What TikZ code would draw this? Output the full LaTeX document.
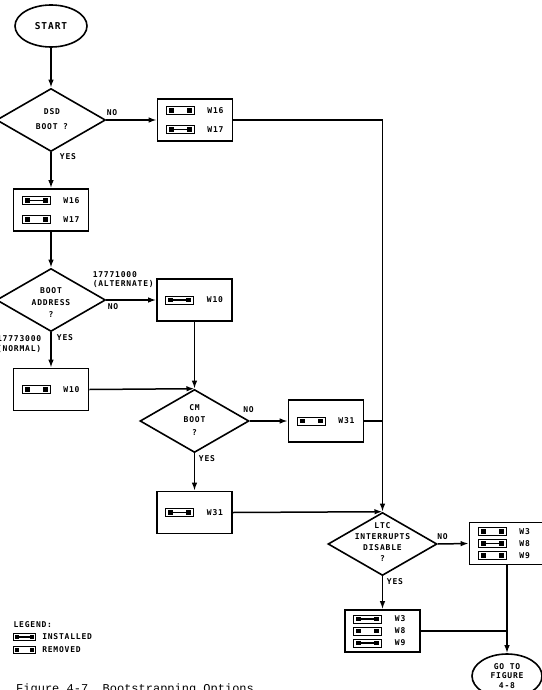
\documentclass[tikz,border=0pt]{standalone}
\usepackage{fontspec}
\newfontfamily\jfont[LetterSpace=10]{DejaVu Sans Mono}
\newfontfamily\capfont{Liberation Mono}
\usetikzlibrary{shapes.geometric}
\usetikzlibrary{arrows.meta}

\tikzset{
  decision/.style={draw, diamond, line width=1.6pt, minimum width=109pt, minimum height=63pt, inner sep=0pt},
  terminal/.style={draw, ellipse, line width=1.6pt, minimum width=72pt, minimum height=42pt, inner sep=0pt, align=center},
  swbox/.style={draw, rectangle, line width=1.6pt, minimum width=75pt, minimum height=42pt},
  flow/.style={-{Latex[length=8pt,width=5.5pt]}},
  qtext/.style={align=center, inner sep=0pt},
  tag/.style={inner sep=0pt},
  jlabel/.style={anchor=west, inner sep=0pt},
  jmpout/.pic={
    \draw[line width=0.9pt] (-14,-4) rectangle (14,4);
    \fill (-11.5,-2.3) rectangle (-6.5,2.3);
    \fill (6.5,-2.3) rectangle (11.5,2.3);
  },
  jmpin/.pic={
    \draw[line width=0.9pt] (-14,-4) rectangle (14,4);
    \fill (-11.5,-2.3) rectangle (-6.5,2.3);
    \fill (6.5,-2.3) rectangle (11.5,2.3);
    \draw[line width=1.8pt] (-7,0) -- (7,0);
  },
}

% one jumper row in a switch box: box, y offset, pic, label
\newcommand{\jrow}[4]{%
  \pic at ([xshift=23.5pt,yshift=#2]#1.west) {#3};
  \node[jlabel] (#1-#4) at ([xshift=50pt,yshift=#2]#1.west) {#4};}

\begin{document}
\begin{tikzpicture}[x=1pt, y=-1pt, line width=1.5pt,
    every node/.append style={font=\jfont\bfseries\fontsize{8}{10.7}\selectfont}]
  \useasboundingbox (0,0) rectangle (541,690);

  % terminals and decisions
  \node[terminal, font=\jfont\bfseries\fontsize{9.5}{11}\selectfont] (start) at (51,26) {START};
  \node[decision] (dsd) at (51,120) {};
  \node[qtext] (dsd-t) at (52,119) {DSD\\[5pt]BOOT ?};
  \node[decision] (addr) at (51,300) {};
  \node[qtext] (addr-t) at (51,302.5) {BOOT\\[1.3pt]ADDRESS\\[1.3pt]?};
  \node[decision] (cm) at (194.5,421) {};
  \node[qtext] (cm-t) at (194.5,420) {CM\\[2pt]BOOT\\[2pt]?};
  \node[decision] (ltc) at (382.5,544) {};
  \node[qtext] (ltc-t) at (382.5,542) {LTC\\INTERRUPTS\\DISABLE\\?};
  \node[terminal, minimum width=70pt, minimum height=44pt] (goto) at (507,676)
    {GO TO\\[-0.9pt]FIGURE\\[-0.9pt]4-8};

  % switch boxes
  \node[swbox] (sw1617a) at (195,120) {};
  \jrow{sw1617a}{9.5pt}{jmpout}{W16}
  \jrow{sw1617a}{-9.5pt}{jmpin}{W17}

  \node[swbox] (sw1617b) at (51,210) {};
  \jrow{sw1617b}{9.5pt}{jmpin}{W16}
  \jrow{sw1617b}{-9.5pt}{jmpout}{W17}

  \node[swbox] (sw10a) at (194.5,300) {};
  \jrow{sw10a}{0pt}{jmpin}{W10}

  \node[swbox] (sw10b) at (51,389.5) {};
  \jrow{sw10b}{0pt}{jmpout}{W10}

  \node[swbox] (sw31a) at (326,421) {};
  \jrow{sw31a}{0pt}{jmpout}{W31}

  \node[swbox] (sw31b) at (194.5,512.5) {};
  \jrow{sw31b}{0pt}{jmpin}{W31}

  \node[swbox] (sw389a) at (507,543.5) {};
  \jrow{sw389a}{12pt}{jmpout}{W3}
  \jrow{sw389a}{0pt}{jmpin}{W8}
  \jrow{sw389a}{-12pt}{jmpout}{W9}

  \node[swbox] (sw389b) at (382.5,631) {};
  \jrow{sw389b}{12pt}{jmpin}{W3}
  \jrow{sw389b}{0pt}{jmpout}{W8}
  \jrow{sw389b}{-12pt}{jmpin}{W9}

  % connectors
  \draw[flow] (start) -- (dsd);
  \draw[flow] (dsd.east) -- (sw1617a.west);
  \draw[flow] (sw1617a.east) -| (ltc.north);
  \draw[flow] (dsd.south) -- (sw1617b.north);
  \draw[flow] (sw1617b.south) -- (addr.north);
  \draw[flow] (addr.east) -- (sw10a.west);
  \draw[flow] (addr.south) -- (sw10b.north);
  \draw[flow] (sw10a.south) -- (cm.north);
  \draw[flow] (sw10b.east) -- (cm.north);
  \draw[flow] (cm.east) -- (sw31a.west);
  \draw (sw31a.east) -- (sw31a.east -| ltc.north);
  \draw[flow] (cm.south) -- (sw31b.north);
  \draw[flow] (sw31b.east) -- (ltc.north);
  \draw[flow] (ltc.east) -- (sw389a.west);
  \draw[flow] (ltc.south) -- (sw389b.north);
  \draw[flow] (sw389a.south) -- (goto.north);
  \draw (sw389b.east) -- (sw389b.east -| goto.north);

  % branch labels
  \node[tag] (dsd-no) at (112,113) {NO};
  \node[tag] (dsd-yes) at (68,157) {YES};
  \node[tag, anchor=west, align=left] (addr-alt) at (92,279.5) {17771000\\[-1pt](ALTERNATE)};
  \node[tag] (addr-no) at (113,307) {NO};
  \node[tag] (addr-yes) at (65,338) {YES};
  \node[tag, anchor=east, align=right] (addr-nrm) at (42,344) {17773000\\[-1pt](NORMAL)};
  \node[tag] (cm-no) at (248.5,410) {NO};
  \node[tag] (cm-yes) at (207,459) {YES};
  \node[tag] (ltc-no) at (442.5,537) {NO};
  \node[tag] (ltc-yes) at (395,582) {YES};

  % legend
  \node[tag, anchor=west] (legend) at (12.8,625) {LEGEND:};
  \pic[scale=0.79] at (24.5,637) {jmpin};
  \node[tag, anchor=west] (leg-in) at (41.5,637) {INSTALLED};
  \pic[scale=0.79] at (24.5,650) {jmpout};
  \node[tag, anchor=west] (leg-out) at (41.5,650) {REMOVED};

  \node[tag, anchor=base west, font=\capfont\fontsize{12}{14}\selectfont] (caption)
    at (15.5,692) {Figure 4-7~~Bootstrapping Options};
\end{tikzpicture}
\end{document}
